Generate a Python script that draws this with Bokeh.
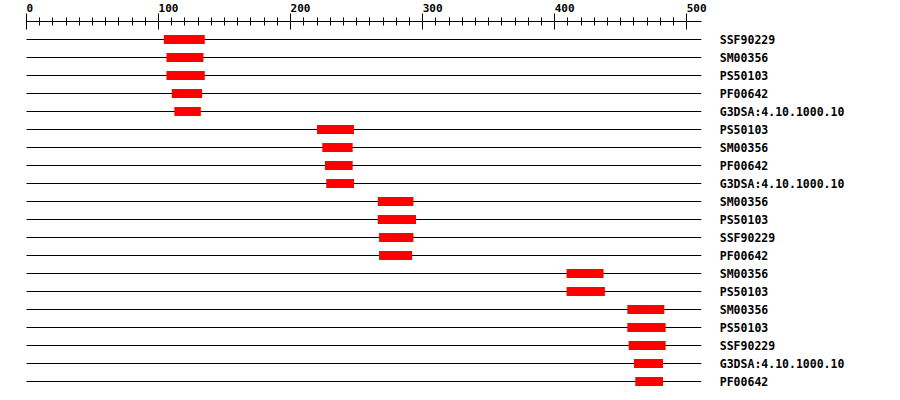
from bokeh.plotting import figure
from bokeh.models import Range1d, LinearAxis, FixedTicker, ColumnDataSource
from bokeh.core.properties import value
from bokeh.embed import file_html
from bokeh.resources import INLINE

# ---- data ----
labels = ["SSF90229", "SM00356", "PS50103", "PF00642", "G3DSA:4.10.1000.10",
          "PS50103", "SM00356", "PF00642", "G3DSA:4.10.1000.10",
          "SM00356", "PS50103", "SSF90229", "PF00642",
          "SM00356", "PS50103",
          "SM00356", "PS50103", "SSF90229", "G3DSA:4.10.1000.10", "PF00642"]
starts = [104, 106, 106, 110, 112,
          220, 224, 226, 227,
          266, 266, 267, 267,
          409, 409,
          455, 455, 456, 460, 461]
ends = [135, 134, 135, 133, 132,
        248, 247, 247, 248,
        293, 295, 293, 292,
        437, 438,
        483, 484, 484, 482, 482]
seq_length = 511
major_ticks = [0, 100, 200, 300, 400, 500]
minor_ticks = list(range(0, 501, 10))

rows = list(range(1, len(labels) + 1))
n = len(rows)

W, H = 892, 392
px_per_unit = 1.3205
x0_px = 26.0
x_start = -x0_px / px_per_unit
x_end = x_start + W / px_per_unit
row_px = 18.0
row1_px = 39.0
y_top = 1 - row1_px / row_px
y_bottom = y_top + H / row_px
axis_row = 1 - (row1_px - 21.0) / row_px

p = figure(width=W, height=H, output_backend="svg", toolbar_location=None,
           x_range=Range1d(x_start, x_end), y_range=Range1d(y_bottom, y_top),
           x_axis_type=None, y_axis_type=None, min_border=0,
           outline_line_color=None, background_fill_color="white",
           border_fill_color="white")
p.xgrid.visible = False
p.ygrid.visible = False

src = ColumnDataSource(dict(row=rows, label=labels, start=starts, end=ends,
                            zero=[0] * n, length=[seq_length] * n,
                            lx=[525] * n))

p.segment(x0="zero", y0="row", x1="length", y1="row", source=src,
          line_color="black", line_width=1)
p.hbar(y="row", left="start", right="end", height=0.5, source=src,
       fill_color="#ff0000", line_color=None)
p.text(x="lx", y="row", text="label", source=src,
       text_font=value("DejaVu Sans Mono"), text_font_style="bold",
       text_font_size="11.5px", text_baseline="middle", text_align="left",
       text_color="black")

ax = LinearAxis(ticker=FixedTicker(ticks=major_ticks, minor_ticks=minor_ticks),
                fixed_location=axis_row, bounds=(0, seq_length))
ax.axis_line_color = "black"
ax.axis_line_width = 1
ax.major_tick_in = 8
ax.major_tick_out = 8
ax.minor_tick_in = 4
ax.minor_tick_out = 4
ax.major_tick_line_color = "black"
ax.minor_tick_line_color = "black"
ax.major_label_text_font = "DejaVu Sans Mono"
ax.major_label_text_font_style = "bold"
ax.major_label_text_font_size = "11px"
ax.major_label_text_color = "black"
ax.major_label_standoff = -1
# monospace labels are centred on the tick; pad with non-breaking spaces so
# the number itself starts at the tick, as in the reference
ax.major_label_overrides = {t: "\u00a0" * len(str(t)) + str(t) for t in major_ticks}
p.add_layout(ax, "above")

open("out.html", "w").write(file_html(p, INLINE))
